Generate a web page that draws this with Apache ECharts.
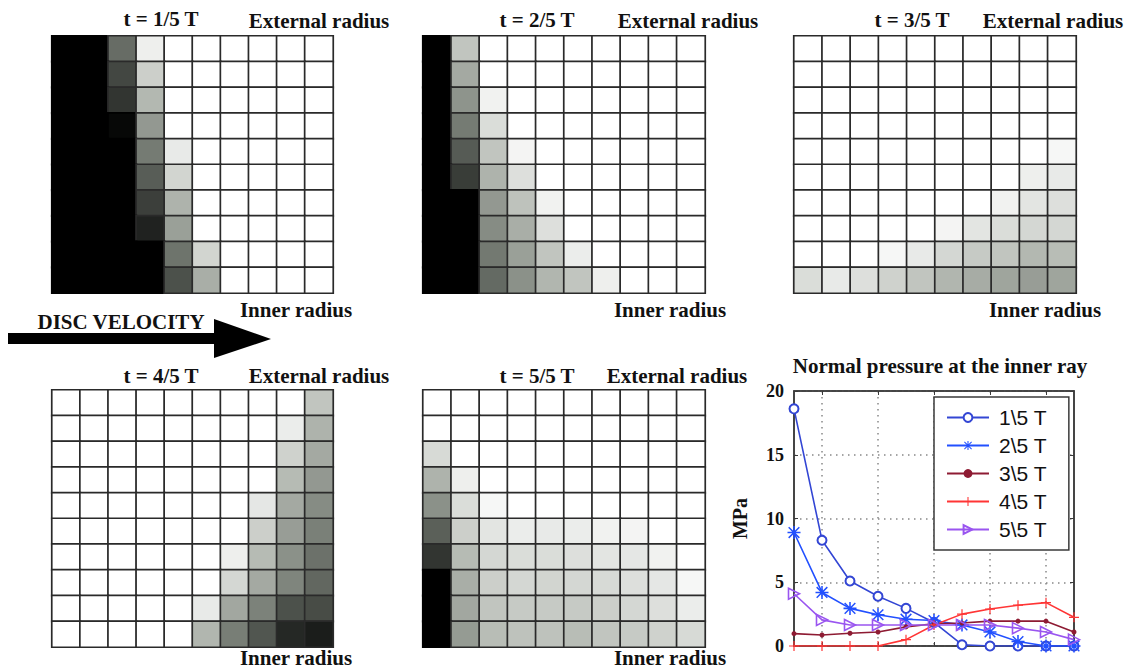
<!DOCTYPE html>
<html>
<head>
<meta charset="utf-8">
<script src="https://cdn.jsdelivr.net/npm/echarts@6/dist/echarts.min.js"></script>
<style>
html,body{margin:0;padding:0;background:#fff;}
#c{width:1126px;height:669px;}
</style>
</head>
<body>
<div id="c"></div>
<script>
// ---- data: pressure maps, rows listed from external radius (top) to inner radius (bottom), 10 columns each
var heat1 = [
  [1,1,0.58,0.06,0,0,0,0,0,0],
  [1,1,0.73,0.18,0,0,0,0,0,0],
  [1,1,0.80,0.27,0,0,0,0,0,0],
  [1,1,0.97,0.40,0,0,0,0,0,0],
  [1,1,1,0.52,0.08,0,0,0,0,0],
  [1,1,1,0.64,0.16,0,0,0,0,0],
  [1,1,1,0.76,0.29,0,0,0,0,0],
  [1,1,1,0.87,0.37,0,0,0,0,0],
  [1,1,1,1,0.55,0.16,0,0,0,0],
  [1,1,1,1,0.69,0.31,0,0,0,0]
];
var heat2 = [
  [1,0.22,0,0,0,0,0,0,0,0],
  [1,0.33,0,0,0,0,0,0,0,0],
  [1,0.42,0.05,0,0,0,0,0,0,0],
  [1,0.52,0.13,0,0,0,0,0,0,0],
  [1,0.65,0.22,0.04,0,0,0,0,0,0],
  [1,0.77,0.29,0.12,0,0,0,0,0,0],
  [1,1,0.40,0.23,0.05,0,0,0,0,0],
  [1,1,0.45,0.31,0.12,0,0,0,0,0],
  [1,1,0.53,0.37,0.22,0.07,0,0,0,0],
  [1,1,0.59,0.43,0.28,0.22,0.06,0,0,0]
];
var heat3 = [
  [0,0,0,0,0,0,0,0,0,0],
  [0,0,0,0,0,0,0,0,0,0],
  [0,0,0,0,0,0,0,0,0,0],
  [0,0,0,0,0,0,0,0,0,0],
  [0,0,0,0,0,0,0,0,0,0.03],
  [0,0,0,0,0,0,0,0,0.06,0.08],
  [0,0,0,0,0,0,0,0.05,0.10,0.12],
  [0,0,0,0,0,0.04,0.10,0.13,0.15,0.15],
  [0,0,0,0.03,0.08,0.15,0.20,0.22,0.27,0.25],
  [0.13,0.08,0.12,0.17,0.22,0.28,0.32,0.35,0.38,0.35]
];
var heat4 = [
  [0,0,0,0,0,0,0,0,0,0.22],
  [0,0,0,0,0,0,0,0,0.07,0.29],
  [0,0,0,0,0,0,0,0,0.17,0.33],
  [0,0,0,0,0,0,0,0,0.26,0.40],
  [0,0,0,0,0,0,0,0.09,0.33,0.45],
  [0,0,0,0,0,0,0,0.18,0.38,0.50],
  [0,0,0,0,0,0,0.06,0.26,0.43,0.56],
  [0,0,0,0,0,0,0.15,0.33,0.48,0.60],
  [0,0,0,0,0,0.08,0.34,0.49,0.69,0.71],
  [0,0,0,0,0,0.28,0.51,0.67,0.85,0.89]
];
var heat5 = [
  [0,0,0,0,0,0,0,0,0,0],
  [0,0,0,0,0,0,0,0,0,0],
  [0.14,0,0,0,0,0,0,0,0,0],
  [0.29,0.06,0,0,0,0,0,0,0,0],
  [0.43,0.13,0.03,0,0,0,0,0,0,0],
  [0.63,0.18,0.10,0.07,0.08,0.07,0.05,0.04,0,0],
  [0.80,0.26,0.15,0.13,0.13,0.12,0.10,0.09,0.05,0],
  [1,0.31,0.18,0.15,0.16,0.15,0.14,0.12,0.09,0.03],
  [1,0.34,0.22,0.20,0.20,0.20,0.18,0.15,0.12,0.07],
  [1,0.39,0.25,0.23,0.23,0.25,0.22,0.20,0.17,0.14]
];
var heatTitles = ['t = 1/5 T','t = 2/5 T','t = 3/5 T','t = 4/5 T','t = 5/5 T'];
var cols10 = ['1','2','3','4','5','6','7','8','9','10'];
var rows10 = ['1','2','3','4','5','6','7','8','9','10'];

// ---- data: normal pressure at the inner ray (MPa), 11 points along the ray
var rayPoints = ['1','2','3','4','5','6','7','8','9','10','11'];
var p1 = [18.6, 8.3, 5.1, 3.9, 2.95, 1.85, 0.1, 0, 0, 0, 0];
var p2 = [8.9, 4.2, 2.95, 2.45, 2.1, 2.0, 1.65, 1.1, 0.35, 0, 0];
var p3 = [0.97, 0.86, 1.0, 1.1, 1.5, 1.75, 1.8, 1.95, 1.95, 1.95, 1.1];
var p4 = [0, 0, 0, 0, 0.5, 1.65, 2.5, 2.9, 3.2, 3.4, 2.25];
var p5 = [4.1, 2.05, 1.65, 1.65, 1.65, 1.65, 1.65, 1.65, 1.4, 1.1, 0.5];
var seriesNames = ['1\\5 T','2\\5 T','3\\5 T','4\\5 T','5\\5 T'];
var yTicks = {min: 0, max: 20, interval: 5};

// ---- layout
var heatBoxes = [
  {left: 52, top: 36, width: 281, height: 257},
  {left: 423, top: 36, width: 282, height: 257},
  {left: 794, top: 36, width: 282, height: 257},
  {left: 52, top: 390, width: 281, height: 257},
  {left: 423, top: 390, width: 282, height: 257}
];
var heats = [heat1, heat2, heat3, heat4, heat5];

function toCells(m) {
  var out = [];
  for (var r = 0; r < m.length; r++)
    for (var c = 0; c < m[r].length; c++) {
      var v = m[r][c];
      var item = {value: [c, r, v]};
      if (v >= 0.95) item.itemStyle = {borderColor: '#000000'};
      out.push(item);
    }
  return out;
}

var grids = [], xAxes = [], yAxes = [], series = [];
heats.forEach(function (m, i) {
  var b = heatBoxes[i];
  grids.push({left: b.left, top: b.top, width: b.width, height: b.height,
    show: true, borderColor: '#2a2a2a', borderWidth: 2, backgroundColor: 'transparent'});
  xAxes.push({type: 'category', gridIndex: i, data: cols10, show: false});
  yAxes.push({type: 'category', gridIndex: i, data: rows10, inverse: true, show: false});
  series.push({
    type: 'heatmap', xAxisIndex: i, yAxisIndex: i, data: toCells(m),
    itemStyle: {borderColor: '#2a2a2a', borderWidth: 1.7},
    emphasis: {disabled: true}, silent: true
  });
});

// line chart grid
var LG = 5;
grids.push({left: 794, top: 391, width: 280, height: 255, show: true,
  borderColor: '#3a3a3a', borderWidth: 1.5, backgroundColor: 'transparent'});
var oddIdx = function (idx) { return idx % 2 === 1; };
xAxes.push({type: 'category', gridIndex: LG, data: rayPoints, boundaryGap: false,
  axisLine: {show: true, onZero: false, lineStyle: {color: '#3a3a3a', width: 1.5}},
  axisTick: {show: true, inside: true, length: 4, interval: oddIdx, lineStyle: {color: '#3a3a3a'}},
  axisLabel: {show: false},
  splitLine: {show: true, interval: oddIdx, lineStyle: {color: '#888', width: 1.5, type: [1.5, 4.5]}}
});
xAxes.push({type: 'category', gridIndex: LG, data: rayPoints, boundaryGap: false, position: 'top',
  axisLine: {show: true, onZero: false, lineStyle: {color: '#3a3a3a', width: 1.5}},
  axisTick: {show: true, inside: true, length: 4, interval: oddIdx, lineStyle: {color: '#3a3a3a'}},
  axisLabel: {show: false}, splitLine: {show: false}
});
yAxes.push({type: 'value', gridIndex: LG, min: yTicks.min, max: yTicks.max, interval: yTicks.interval,
  name: 'MPa', nameLocation: 'middle', nameRotate: 90, nameGap: 44,
  nameTextStyle: {fontFamily: 'Liberation Serif', fontWeight: 'bold', fontSize: 20, color: '#111'},
  axisLine: {show: true, lineStyle: {color: '#3a3a3a', width: 1.5}},
  axisTick: {show: true, inside: true, length: 4, lineStyle: {color: '#3a3a3a'}},
  axisLabel: {fontFamily: 'Liberation Serif', fontWeight: 'bold', fontSize: 18, color: '#111', margin: 10},
  splitLine: {show: true, lineStyle: {color: '#888', width: 1.5, type: [1.5, 4.5]}}
});
yAxes.push({type: 'value', gridIndex: LG, min: yTicks.min, max: yTicks.max, interval: yTicks.interval,
  position: 'right',
  axisLine: {show: true, lineStyle: {color: '#3a3a3a', width: 1.5}},
  axisTick: {show: true, inside: true, length: 4, lineStyle: {color: '#3a3a3a'}},
  axisLabel: {show: false}, splitLine: {show: false}
});

var asterisk = 'path://M4.4,0L5.6,0L5.6,10L4.4,10Z M0,4.4L10,4.4L10,5.6L0,5.6Z M1.3,0.5L9.5,8.7L8.7,9.5L0.5,1.3Z M8.7,0.5L9.5,1.3L1.3,9.5L0.5,8.7Z';
var plus = 'path://M4.4,0L5.6,0L5.6,10L4.4,10Z M0,4.4L10,4.4L10,5.6L0,5.6Z';
var triR = 'path://M0,0L10,5L0,10Z';
var lineDefs = [
  {name: seriesNames[0], data: p1, color: '#3346d4', symbol: 'emptyCircle', size: 9},
  {name: seriesNames[1], data: p2, color: '#2250ff', symbol: asterisk, size: 13},
  {name: seriesNames[2], data: p3, color: '#8e1b33', symbol: 'circle', size: 5},
  {name: seriesNames[3], data: p4, color: '#ff3535', symbol: plus, size: 10},
  {name: seriesNames[4], data: p5, color: '#9a55f0', symbol: triR, size: 11}
];
lineDefs.forEach(function (d) {
  var item;
  if (d.symbol === triR) item = {color: 'rgba(255,255,255,0)', borderColor: d.color, borderWidth: 1.6};
  else if (d.symbol === 'emptyCircle') item = {color: d.color, borderWidth: 1.6};
  else item = {color: d.color};
  series.push({
    type: 'line', name: d.name, xAxisIndex: 5, yAxisIndex: 5, data: d.data,
    symbol: d.symbol, symbolSize: d.size, showAllSymbol: true,
    lineStyle: {color: d.color, width: 1.6},
    itemStyle: item,
    emphasis: {disabled: true}, silent: true, animation: false
  });
});

// ---- texts
var serifB = 'bold 21px "Liberation Serif"';
function txt(s, x, y, font, align) {
  return {type: 'text', x: x, y: y, silent: true,
    style: {text: s, font: font || serifB, fill: '#111', align: align || 'center', verticalAlign: 'middle'}};
}
var graphics = [
  txt(heatTitles[0], 161, 19), txt('External radius', 319, 21),
  txt(heatTitles[1], 537, 20), txt('External radius', 688, 21),
  txt(heatTitles[2], 912, 20), txt('External radius', 1053, 21),
  txt('Inner radius', 296, 310), txt('Inner radius', 670, 310), txt('Inner radius', 1045, 310),
  txt(heatTitles[3], 161, 376), txt('External radius', 319, 376),
  txt(heatTitles[4], 537, 376), txt('External radius', 677, 376),
  txt('Inner radius', 296, 658), txt('Inner radius', 670, 658),
  txt('Normal pressure at the inner ray', 940, 366, 'bold 21px "Liberation Serif"'),
  txt('DISC VELOCITY', 121, 322, 'bold 21px "Liberation Serif"'),
  {type: 'polygon', silent: true,
    shape: {points: [[8,333],[214,333],[214,319],[271,339],[214,358],[214,344],[8,344]]},
    style: {fill: '#000'}}
];

var chart = echarts.init(document.getElementById('c'), null, {renderer: 'svg'});
chart.setOption({
  animation: false,
  backgroundColor: '#ffffff',
  grid: grids,
  xAxis: xAxes,
  yAxis: yAxes,
  visualMap: {type: 'continuous', show: false, min: 0, max: 1, dimension: 2,
    seriesIndex: [0,1,2,3,4],
    inRange: {color: ['#ffffff', '#b8bdb6', '#7a8078', '#3e423d', '#000000']}},
  legend: {
    data: seriesNames, orient: 'vertical', left: 934, top: 397,
    itemWidth: 42, itemHeight: 11, itemGap: 7,
    padding: [10, 22, 10, 12],
    backgroundColor: '#ffffff', borderColor: '#3a3a3a', borderWidth: 1.5, borderRadius: 0,
    textStyle: {fontFamily: 'Liberation Sans', fontSize: 21, lineHeight: 21, color: '#111', padding: [0, 0, 0, 5]},
    selectedMode: false
  },
  series: series,
  graphic: graphics
});
</script>
</body>
</html>
